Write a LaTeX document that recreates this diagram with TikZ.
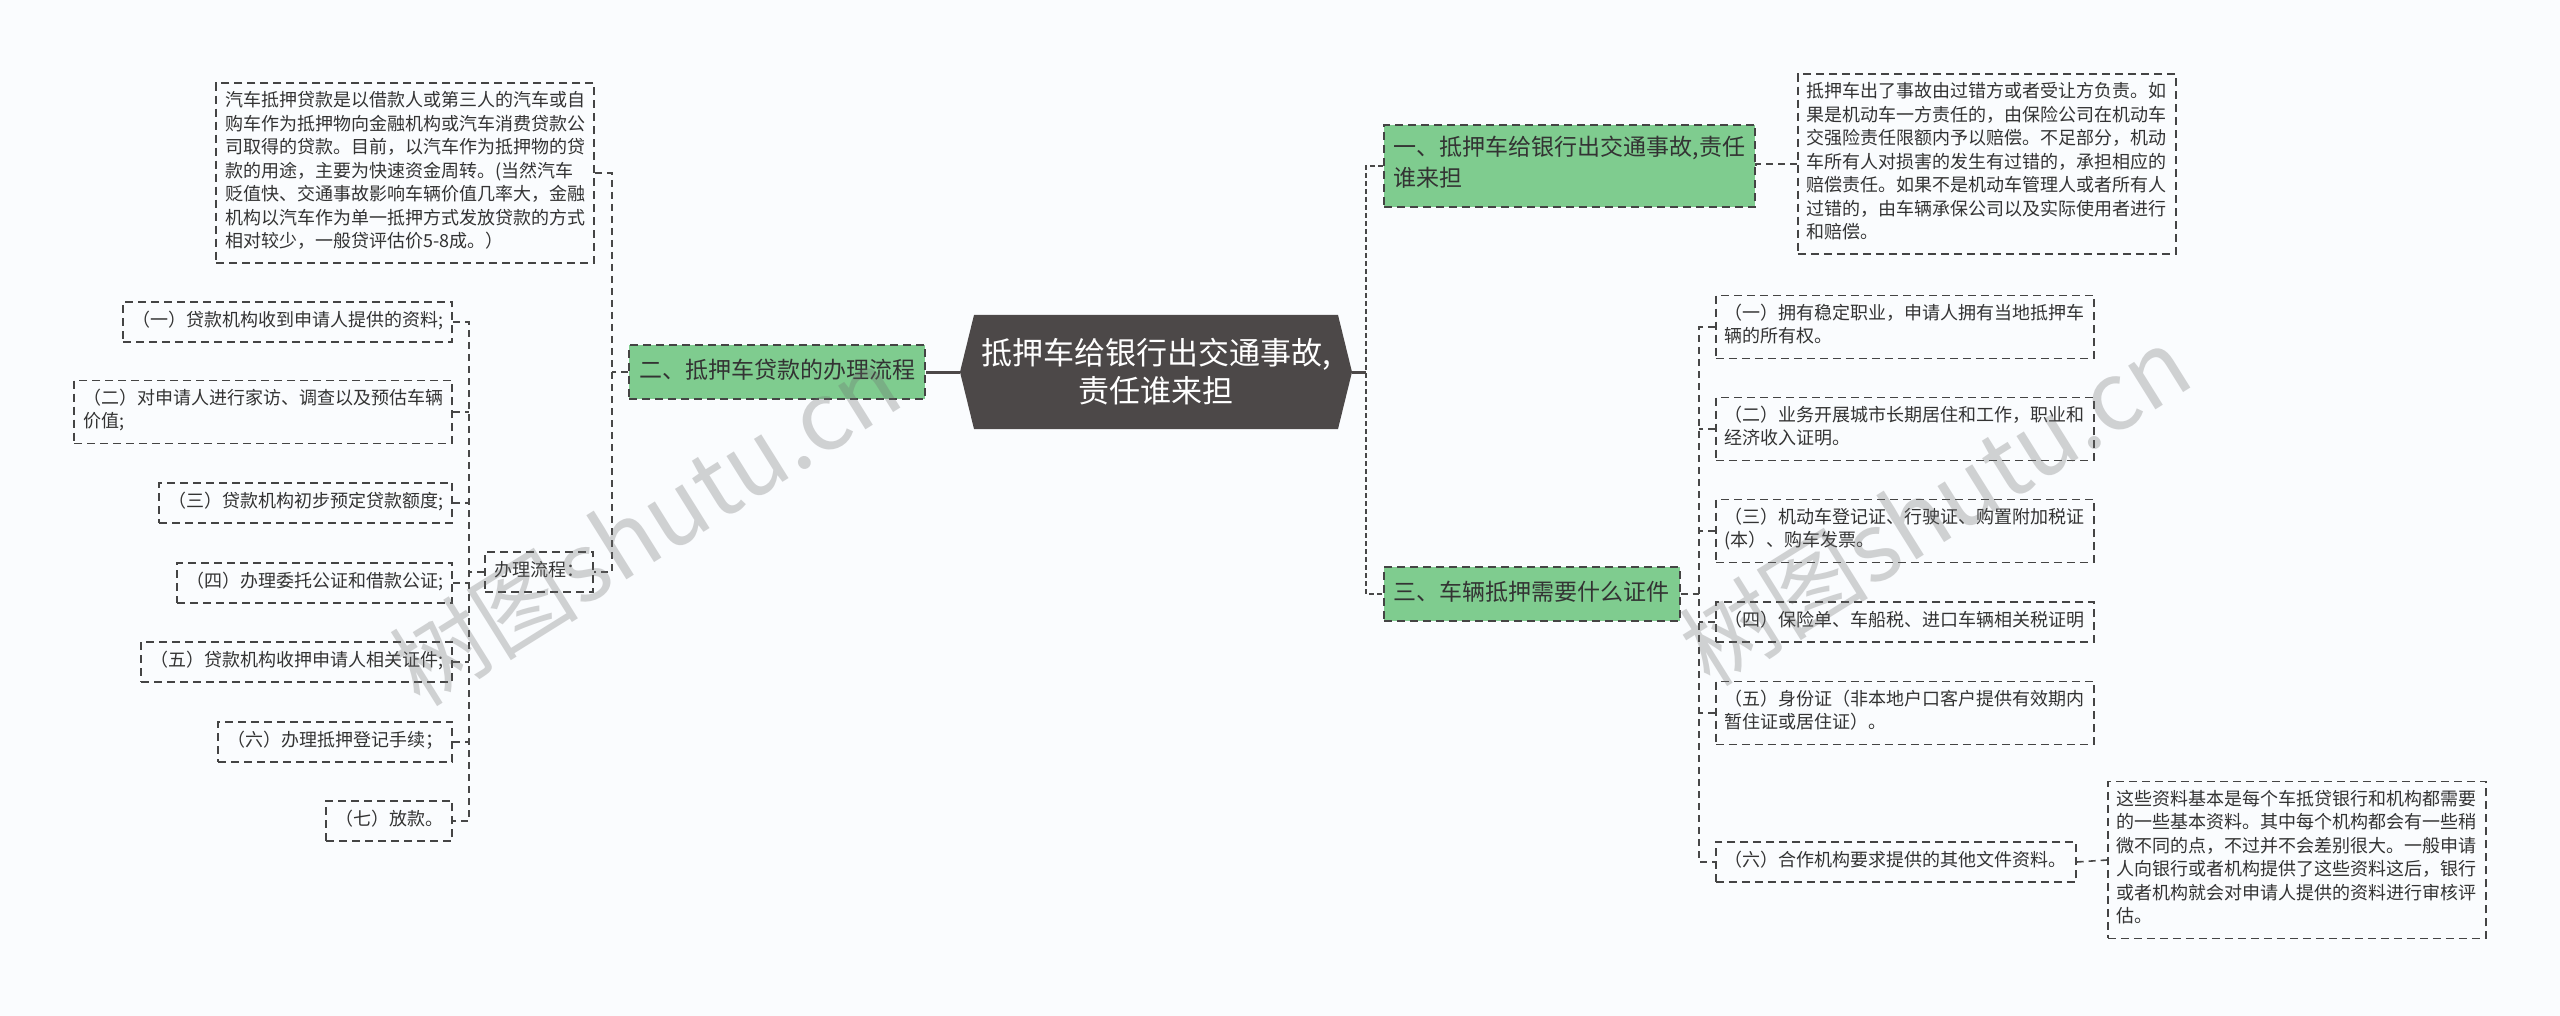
\documentclass[tikz,border=0pt]{standalone}
\usepackage{fontspec}
\setmainfont{Noto Sans CJK SC}
\usepackage{xcolor}
\definecolor{canvasbg}{RGB}{250,252,254}
\definecolor{rootgray}{RGB}{76,72,72}
\definecolor{branchgreen}{RGB}{127,204,143}
\definecolor{boxslate}{RGB}{68,68,68}
\definecolor{lineslate}{RGB}{72,72,72}
\definecolor{textslate}{RGB}{51,51,51}
\definecolor{markgray}{RGB}{110,110,110}
\usepackage{tikz}

\tikzset{
  leaf/.style={draw=boxslate, line width=1.7pt, dash pattern=on 8pt off 5pt,
    text=textslate, font=\fontsize{18}{23.5}\selectfont, align=left,
    inner xsep=9pt, inner ysep=8.5pt,
    execute at begin node=\strut, execute at end node=\strut},
  branch/.style={leaf, fill=branchgreen, font=\fontsize{23}{30.5}\selectfont,
    inner xsep=10pt, inner ysep=11.5pt},
  rootbox/.style={minimum width=392pt, minimum height=114pt, inner sep=0pt,
    fill=canvasbg, text=white, align=center, font=\fontsize{31}{38}\selectfont,
    path picture={\fill[rootgray] (path picture bounding box.west)
      -- ([xshift=14pt]path picture bounding box.north west)
      -- ([xshift=-14pt]path picture bounding box.north east)
      -- (path picture bounding box.east)
      -- ([xshift=-14pt]path picture bounding box.south east)
      -- ([xshift=14pt]path picture bounding box.south west) -- cycle;}},
  trunk/.style={draw=rootgray, line width=3pt},
  spine/.style={draw=lineslate, line width=2.4pt, dash pattern=on 5pt off 3pt},
  twig/.style={draw=lineslate, line width=1.6pt, dash pattern=on 7pt off 5pt},
  watermark/.style={text=markgray, opacity=0.3, font=\fontsize{95}{95}\selectfont, rotate=32}
}

\begin{document}
\begin{tikzpicture}[x=1pt, y=-1pt]
    \useasboundingbox (0,0) rectangle (2560,1016);
    \fill[canvasbg] (0,0) rectangle (2560,1016);

    % centre
    \node[rootbox] (root) at (1156,372) {抵押车给银行出交通事故,\\责任谁来担};

    % left: loan procedure
    \node[branch, anchor=east] (procedure) at (926,372) {二、抵押车贷款的办理流程};
    \node[leaf, anchor=east] (loanNote) at (595,173) {汽车抵押贷款是以借款人或第三人的汽车或自\\购车作为抵押物向金融机构或汽车消费贷款公\\司取得的贷款。目前，以汽车作为抵押物的贷\\款的用途，主要为快速资金周转。(当然汽车\\贬值快、交通事故影响车辆价值几率大，金融\\机构以汽车作为单一抵押方式发放贷款的方式\\相对较少，一般贷评估价5-8成。）};
    \node[leaf, anchor=east] (flow) at (594,572) {办理流程：};
    \node[leaf, anchor=east] (stepA) at (453,322) {（一）贷款机构收到申请人提供的资料;};
    \node[leaf, anchor=east] (stepB) at (453,412) {（二）对申请人进行家访、调查以及预估车辆\\价值;};
    \node[leaf, anchor=east] (stepC) at (453,503) {（三）贷款机构初步预定贷款额度;};
    \node[leaf, anchor=east] (stepD) at (453,583) {（四）办理委托公证和借款公证;};
    \node[leaf, anchor=east] (stepE) at (453,662) {（五）贷款机构收押申请人相关证件;};
    \node[leaf, anchor=east] (stepF) at (453,742) {（六）办理抵押登记手续；};
    \node[leaf, anchor=east] (stepG) at (453,821) {（七）放款。};

    % right: liability and papers
    \node[branch, anchor=west] (claim) at (1383,166) {一、抵押车给银行出交通事故,责任\\谁来担};
    \node[leaf, anchor=west] (claimNote) at (1797,164) {抵押车出了事故由过错方或者受让方负责。如\\果是机动车一方责任的，由保险公司在机动车\\交强险责任限额内予以赔偿。不足部分，机动\\车所有人对损害的发生有过错的，承担相应的\\赔偿责任。如果不是机动车管理人或者所有人\\过错的，由车辆承保公司以及实际使用者进行\\和赔偿。};
    \node[branch, anchor=west] (papers) at (1383,594) {三、车辆抵押需要什么证件};
    \node[leaf, anchor=west] (docA) at (1715,327) {（一）拥有稳定职业，申请人拥有当地抵押车\\辆的所有权。};
    \node[leaf, anchor=west] (docB) at (1715,429) {（二）业务开展城市长期居住和工作，职业和\\经济收入证明。};
    \node[leaf, anchor=west] (docC) at (1715,531) {（三）机动车登记证、行驶证、购置附加税证\\(本）、购车发票。};
    \node[leaf, anchor=west] (docD) at (1715,622) {（四）保险单、车船税、进口车辆相关税证明};
    \node[leaf, anchor=west] (docE) at (1715,713) {（五）身份证（非本地户口客户提供有效期内\\暂住证或居住证）。};
    \node[leaf, anchor=west] (docF) at (1715,862) {（六）合作机构要求提供的其他文件资料。};
    \node[leaf, anchor=west] (docNote) at (2107,860) {这些资料基本是每个车抵贷银行和机构都需要\\的一些基本资料。其中每个机构都会有一些稍\\微不同的点，不过并不会差别很大。一般申请\\人向银行或者机构提供了这些资料这后，银行\\或者机构就会对申请人提供的资料进行审核评\\估。};

    % connectors, left
    \coordinate (spineL) at (612,372);
    \coordinate (spineF) at (469,572);
    \draw[trunk] (root.west) -- (procedure.east);
    \draw[twig] (procedure.west) -- (spineL);
    \draw[twig] (loanNote.east) -| (spineL) |- (flow.east);
    \draw[twig] (flow.west) -- (spineF);
    \draw[twig] (stepA.east) -| (spineF) |- (stepG.east);
    \foreach \s in {stepB,stepC,stepD,stepE,stepF}
        \draw[twig] (\s.east) -- (\s.east -| spineF);

    % connectors, right
    \coordinate (spineR) at (1366,372);
    \coordinate (spineP) at (1699,594);
    \draw[trunk] (root.east) -- (spineR);
    \draw[spine] (claim.west) -| (spineR) |- (papers.west);
    \draw[twig] (claim.east) -- (claimNote.west -| claim.east) -- (claimNote.west);
    \draw[twig] (papers.east) -- (spineP);
    \draw[twig] (docA.west) -| (spineP) |- (docF.west);
    \foreach \d in {docB,docC,docD,docE}
        \draw[twig] (\d.west) -- (\d.west -| spineP);
    \draw[twig] (docF.east) -- (docNote.west);

    % watermarks
    \node[watermark] (markL) at (645,526) {树图shutu.cn};
    \node[watermark] (markR) at (1935,506) {树图shutu.cn};
\end{tikzpicture}
\end{document}
